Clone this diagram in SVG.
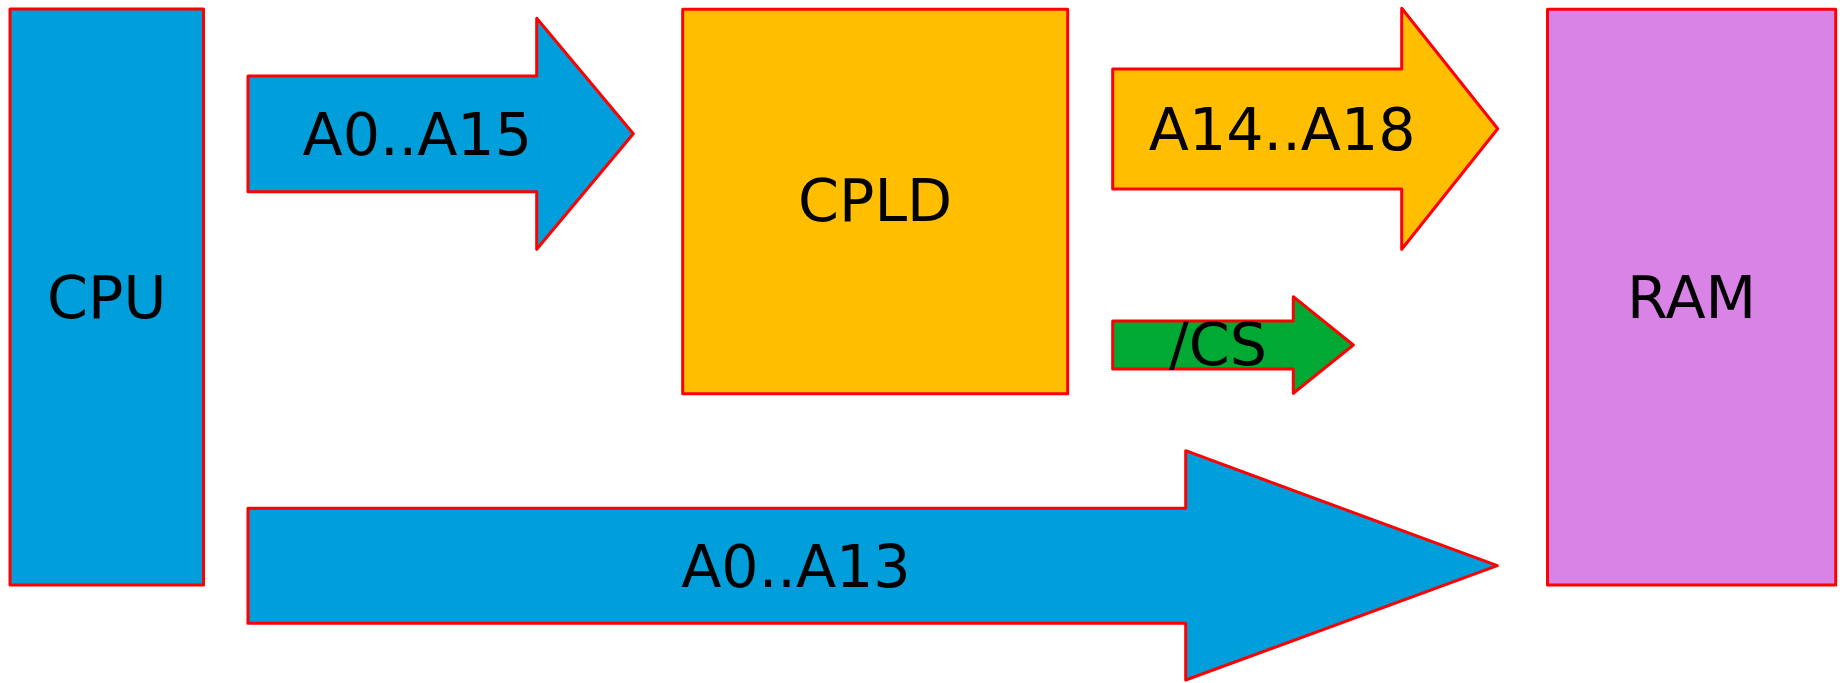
<svg xmlns="http://www.w3.org/2000/svg" width="1840" height="683" viewBox="0 0 1840 683">
<style>
.s{stroke:#f00;stroke-width:3;stroke-linejoin:round}
.blue{fill:#009fdb}
.yellow{fill:#ffbf00}
.green{fill:#00a933}
.purple{fill:#da83e6}
text{font-family:"DejaVu Sans",sans-serif;font-size:58.67px;fill:#000}
</style>
<rect width="1840" height="683" fill="#fff"/>
<g id="cpu">
<rect class="s blue" x="10" y="9" width="193.5" height="576"/>
<text x="106.75" y="318" text-anchor="middle">CPU</text>
</g>
<g id="cpld">
<rect class="s yellow" x="682.7" y="9.3" width="385" height="384.5"/>
<text x="875.2" y="221" text-anchor="middle">CPLD</text>
</g>
<g id="ram">
<rect class="s purple" x="1547.5" y="9.3" width="288.2" height="575.7"/>
<text x="1691.6" y="318" text-anchor="middle">RAM</text>
</g>
<g id="connectors">
<g id="bus-a0-a15">
<path class="s blue" d="M248,76 H536.7 V18.3 L633.3,133.8 L536.7,249.3 V191.7 H248 Z"/>
<text x="302.5" y="155">A0..A15</text>
</g>
<g id="bus-a14-a18">
<path class="s yellow" d="M1112.7,69 H1401.7 V8.3 L1497.7,128.8 L1401.7,249.3 V189 H1112.7 Z"/>
<text x="1148.8" y="150">A14..A18</text>
</g>
<g id="sig-cs">
<path class="s green" d="M1112.7,321 H1293.3 V296.7 L1353.3,345 L1293.3,393.3 V369 H1112.7 Z"/>
<text x="1169" y="365">/CS</text>
</g>
<g id="bus-a0-a13">
<path class="s blue" d="M248,508.3 H1185.7 V450.7 L1497.3,565.7 L1185.7,680 V623.3 H248 Z"/>
<text x="681.2" y="586.7">A0..A13</text>
</g>
</g>
</svg>
